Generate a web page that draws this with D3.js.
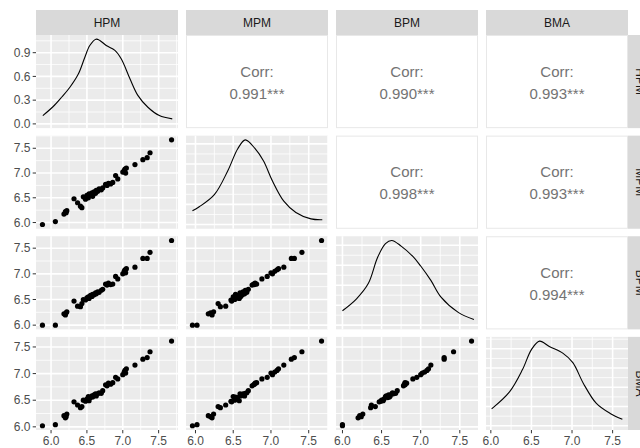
<!DOCTYPE html>
<html><head><meta charset="utf-8">
<script src="https://cdn.jsdelivr.net/npm/d3@7"></script>
<style>body{margin:0;background:#fff} text{font-family:"Liberation Sans",Arial,sans-serif}</style>
</head><body><svg id="c" width="640" height="448"></svg>
<script>
// ---- data ----
const variables = ["HPM","MPM","BPM","BMA"];
const HPM = [5.88,6.06,6.18,6.20,6.22,6.21,6.32,6.37,6.41,6.43,6.45,6.48,6.50,6.52,6.53,6.55,6.57,6.58,6.60,6.62,6.63,6.65,6.67,6.70,6.72,6.76,6.78,6.80,6.83,6.86,6.90,6.93,7.00,7.02,7.03,7.05,7.04,7.17,7.28,7.34,7.38,7.68];
const MPM = [5.96,6.02,6.17,6.22,6.24,6.20,6.48,6.40,6.33,6.30,6.52,6.47,6.55,6.50,6.58,6.56,6.60,6.53,6.62,6.59,6.65,6.63,6.68,6.66,6.70,6.77,6.75,6.79,6.78,6.81,6.95,6.88,7.02,7.05,7.08,7.10,7.00,7.17,7.27,7.31,7.41,7.67];
const BPM = [6.00,6.00,6.22,6.20,6.26,6.24,6.47,6.37,6.36,6.42,6.50,6.49,6.53,6.55,6.52,6.58,6.56,6.60,6.59,6.63,6.61,6.65,6.64,6.68,6.70,6.80,6.78,6.82,6.79,6.80,6.95,6.90,7.00,7.05,7.08,7.10,7.02,7.13,7.30,7.30,7.42,7.65];
const BMA = [6.02,6.04,6.21,6.17,6.24,6.19,6.47,6.41,6.36,6.38,6.50,6.48,6.52,6.57,6.49,6.55,6.58,6.56,6.60,6.62,6.58,6.62,6.64,6.63,6.68,6.79,6.77,6.82,6.80,6.83,6.93,6.90,6.98,7.03,7.06,7.09,7.01,7.16,7.27,7.30,7.41,7.61];

// density curves (x value, density)
const densHPM_x = [5.885,6.03,6.15,6.26,6.38,6.47,6.54,6.625,6.68,6.77,6.89,6.98,7.10,7.21,7.35,7.51,7.69];
const densHPM_y = [0.105,0.22,0.34,0.46,0.63,0.84,0.99,1.07,1.055,0.99,0.93,0.82,0.57,0.36,0.21,0.105,0.063];
const densMPM_x = [5.96,6.05,6.25,6.43,6.56,6.66,6.79,6.90,7.02,7.17,7.33,7.53,7.68];
const densMPM_y = [0.17,0.22,0.37,0.67,0.94,1.05,0.94,0.79,0.54,0.29,0.15,0.07,0.06];
const densBPM_x = [6.00,6.18,6.33,6.45,6.55,6.63,6.75,6.90,7.00,7.13,7.26,7.48,7.68];
const densBPM_y = [0.18,0.33,0.52,0.85,1.02,1.06,0.99,0.86,0.74,0.56,0.35,0.16,0.07];
const densBMA_x = [6.01,6.23,6.39,6.50,6.60,6.72,6.89,7.01,7.14,7.30,7.47,7.62];
const densBMA_y = [0.22,0.44,0.73,0.99,1.10,1.03,0.94,0.82,0.55,0.29,0.16,0.085];

const corrRow = [0,0,0,1,1,2];
const corrCol = [1,2,3,2,3,3];
const corrText = ["0.991***","0.990***","0.993***","0.998***","0.993***","0.994***"];

const valueTicks = [6.0,6.5,7.0,7.5];
const valueMinor = [5.75,6.25,6.75,7.25,7.75];
const densTicks = [0.0,0.3,0.6,0.9];
const densMinor = [0.15,0.45,0.75,1.05];

// ---- layout ----
const data = [HPM,MPM,BPM,BMA];
const densX = [densHPM_x,densMPM_x,densBPM_x,densBMA_x];
const densY = [densHPM_y,densMPM_y,densBPM_y,densBMA_y];
const L = 36, R = 628, T = 35, B = 430, gx = 8, gy = 7.5;
const pw = (R - L - 3*gx)/4, ph = (B - T - 3*gy)/4;
const px = j => L + j*(pw+gx), py = i => T + i*(ph+gy);

const svg = d3.select("#c");
const gray = "#EBEBEB";

function expand(ext){const r=ext[1]-ext[0];return [ext[0]-0.05*r, ext[1]+0.05*r];}
const xs = data.map((d,j)=>d3.scaleLinear().domain(expand(d3.extent(d))).range([px(j), px(j)+pw]));
const ys = data.map((d,i)=>d3.scaleLinear().domain(expand(d3.extent(d))).range([py(i)+ph, py(i)]));
const dys = densY.map((d,i)=>d3.scaleLinear().domain(expand([0,d3.max(d)])).range([py(i)+ph, py(i)]));

// strips top
variables.forEach((v,j)=>{
  svg.append("rect").attr("x",px(j)).attr("y",10).attr("width",pw).attr("height",T-10).attr("fill","#D9D9D9");
  svg.append("text").attr("x",px(j)+pw/2).attr("y",27).attr("text-anchor","middle").attr("font-size",12).attr("fill","#1A1A1A").text(v);
});
// strips right
variables.forEach((v,i)=>{
  svg.append("rect").attr("x",R).attr("y",py(i)).attr("width",25).attr("height",ph).attr("fill","#D9D9D9");
  svg.append("text").attr("transform",`translate(${R+12.5},${py(i)+ph/2}) rotate(90)`).attr("text-anchor","middle").attr("dy","0.35em").attr("font-size",12).attr("fill","#1A1A1A").text(v);
});

function gridV(g, xsc, y0, y1){
  const d = xsc.domain();
  valueMinor.filter(t=>t>d[0]&&t<d[1]).forEach(t=>g.append("line").attr("x1",xsc(t)).attr("x2",xsc(t)).attr("y1",y0).attr("y2",y1).attr("stroke","#fff").attr("stroke-width",0.8));
  valueTicks.filter(t=>t>d[0]&&t<d[1]).forEach(t=>g.append("line").attr("x1",xsc(t)).attr("x2",xsc(t)).attr("y1",y0).attr("y2",y1).attr("stroke","#fff").attr("stroke-width",1.6));
}
function gridH(g, ysc, x0, x1, major, minor){
  const d = ysc.domain();
  minor.filter(t=>t>d[0]&&t<d[1]).forEach(t=>g.append("line").attr("y1",ysc(t)).attr("y2",ysc(t)).attr("x1",x0).attr("x2",x1).attr("stroke","#fff").attr("stroke-width",0.8));
  major.filter(t=>t>d[0]&&t<d[1]).forEach(t=>g.append("line").attr("y1",ysc(t)).attr("y2",ysc(t)).attr("x1",x0).attr("x2",x1).attr("stroke","#fff").attr("stroke-width",1.6));
}

const line = d3.line().curve(d3.curveCatmullRom);

for(let i=0;i<4;i++){
  for(let j=0;j<4;j++){
    const g = svg.append("g");
    const x0=px(j), y0=py(i);
    if(j>i){
      g.append("rect").attr("x",x0+0.5).attr("y",y0+0.5).attr("width",pw-1).attr("height",ph-1).attr("fill","#fff").attr("stroke","#E8E8E8").attr("stroke-width",1);
      const k = corrRow.findIndex((r,n)=>r===i && corrCol[n]===j);
      g.append("text").attr("x",x0+pw/2).attr("y",y0+ph/2-5).attr("text-anchor","middle").attr("font-size",15).attr("fill","#737373").text("Corr:");
      g.append("text").attr("x",x0+pw/2).attr("y",y0+ph/2+17).attr("text-anchor","middle").attr("font-size",15).attr("fill","#737373").text(corrText[k]);
      continue;
    }
    g.append("rect").attr("x",x0).attr("y",y0).attr("width",pw).attr("height",ph).attr("fill",gray);
    gridV(g, xs[j], y0, y0+ph);
    if(i===j){
      const dmaj = i===0 ? densTicks : [0,0.25,0.5,0.75,1.0];
      const dmin = i===0 ? densMinor : [0.125,0.375,0.625,0.875,1.125];
      gridH(g, dys[i], x0, x0+pw, dmaj, dmin);
      const pts = densX[i].map((x,n)=>[xs[j](x), dys[i](densY[i][n])]);
      g.append("path").attr("d",line(pts)).attr("fill","none").attr("stroke","#000").attr("stroke-width",1.1);
    } else {
      gridH(g, ys[i], x0, x0+pw, valueTicks, valueMinor);
      data[j].forEach((v,n)=>{
        g.append("circle").attr("cx",xs[j](v)).attr("cy",ys[i](data[i][n])).attr("r",2.6).attr("fill","#000");
      });
    }
  }
}

// left axes
for(let i=0;i<4;i++){
  const sc = i===0 ? dys[0] : ys[i];
  const ticks = i===0 ? densTicks : valueTicks;
  ticks.forEach(t=>{
    svg.append("line").attr("x1",L-3.3).attr("x2",L).attr("y1",sc(t)).attr("y2",sc(t)).attr("stroke","#333").attr("stroke-width",1);
    svg.append("text").attr("x",L-5.5).attr("y",sc(t)).attr("dy","0.35em").attr("text-anchor","end").attr("font-size",12).attr("fill","#4D4D4D").text(d3.format(".1f")(t));
  });
}
// bottom axes
for(let j=0;j<4;j++){
  valueTicks.forEach(t=>{
    const x = xs[j](t);
    svg.append("line").attr("x1",x).attr("x2",x).attr("y1",B).attr("y2",B+3.3).attr("stroke","#333").attr("stroke-width",1);
    svg.append("text").attr("x",x).attr("y",B+15).attr("text-anchor","middle").attr("font-size",12).attr("fill","#4D4D4D").text(d3.format(".1f")(t));
  });
}
</script></body></html>
